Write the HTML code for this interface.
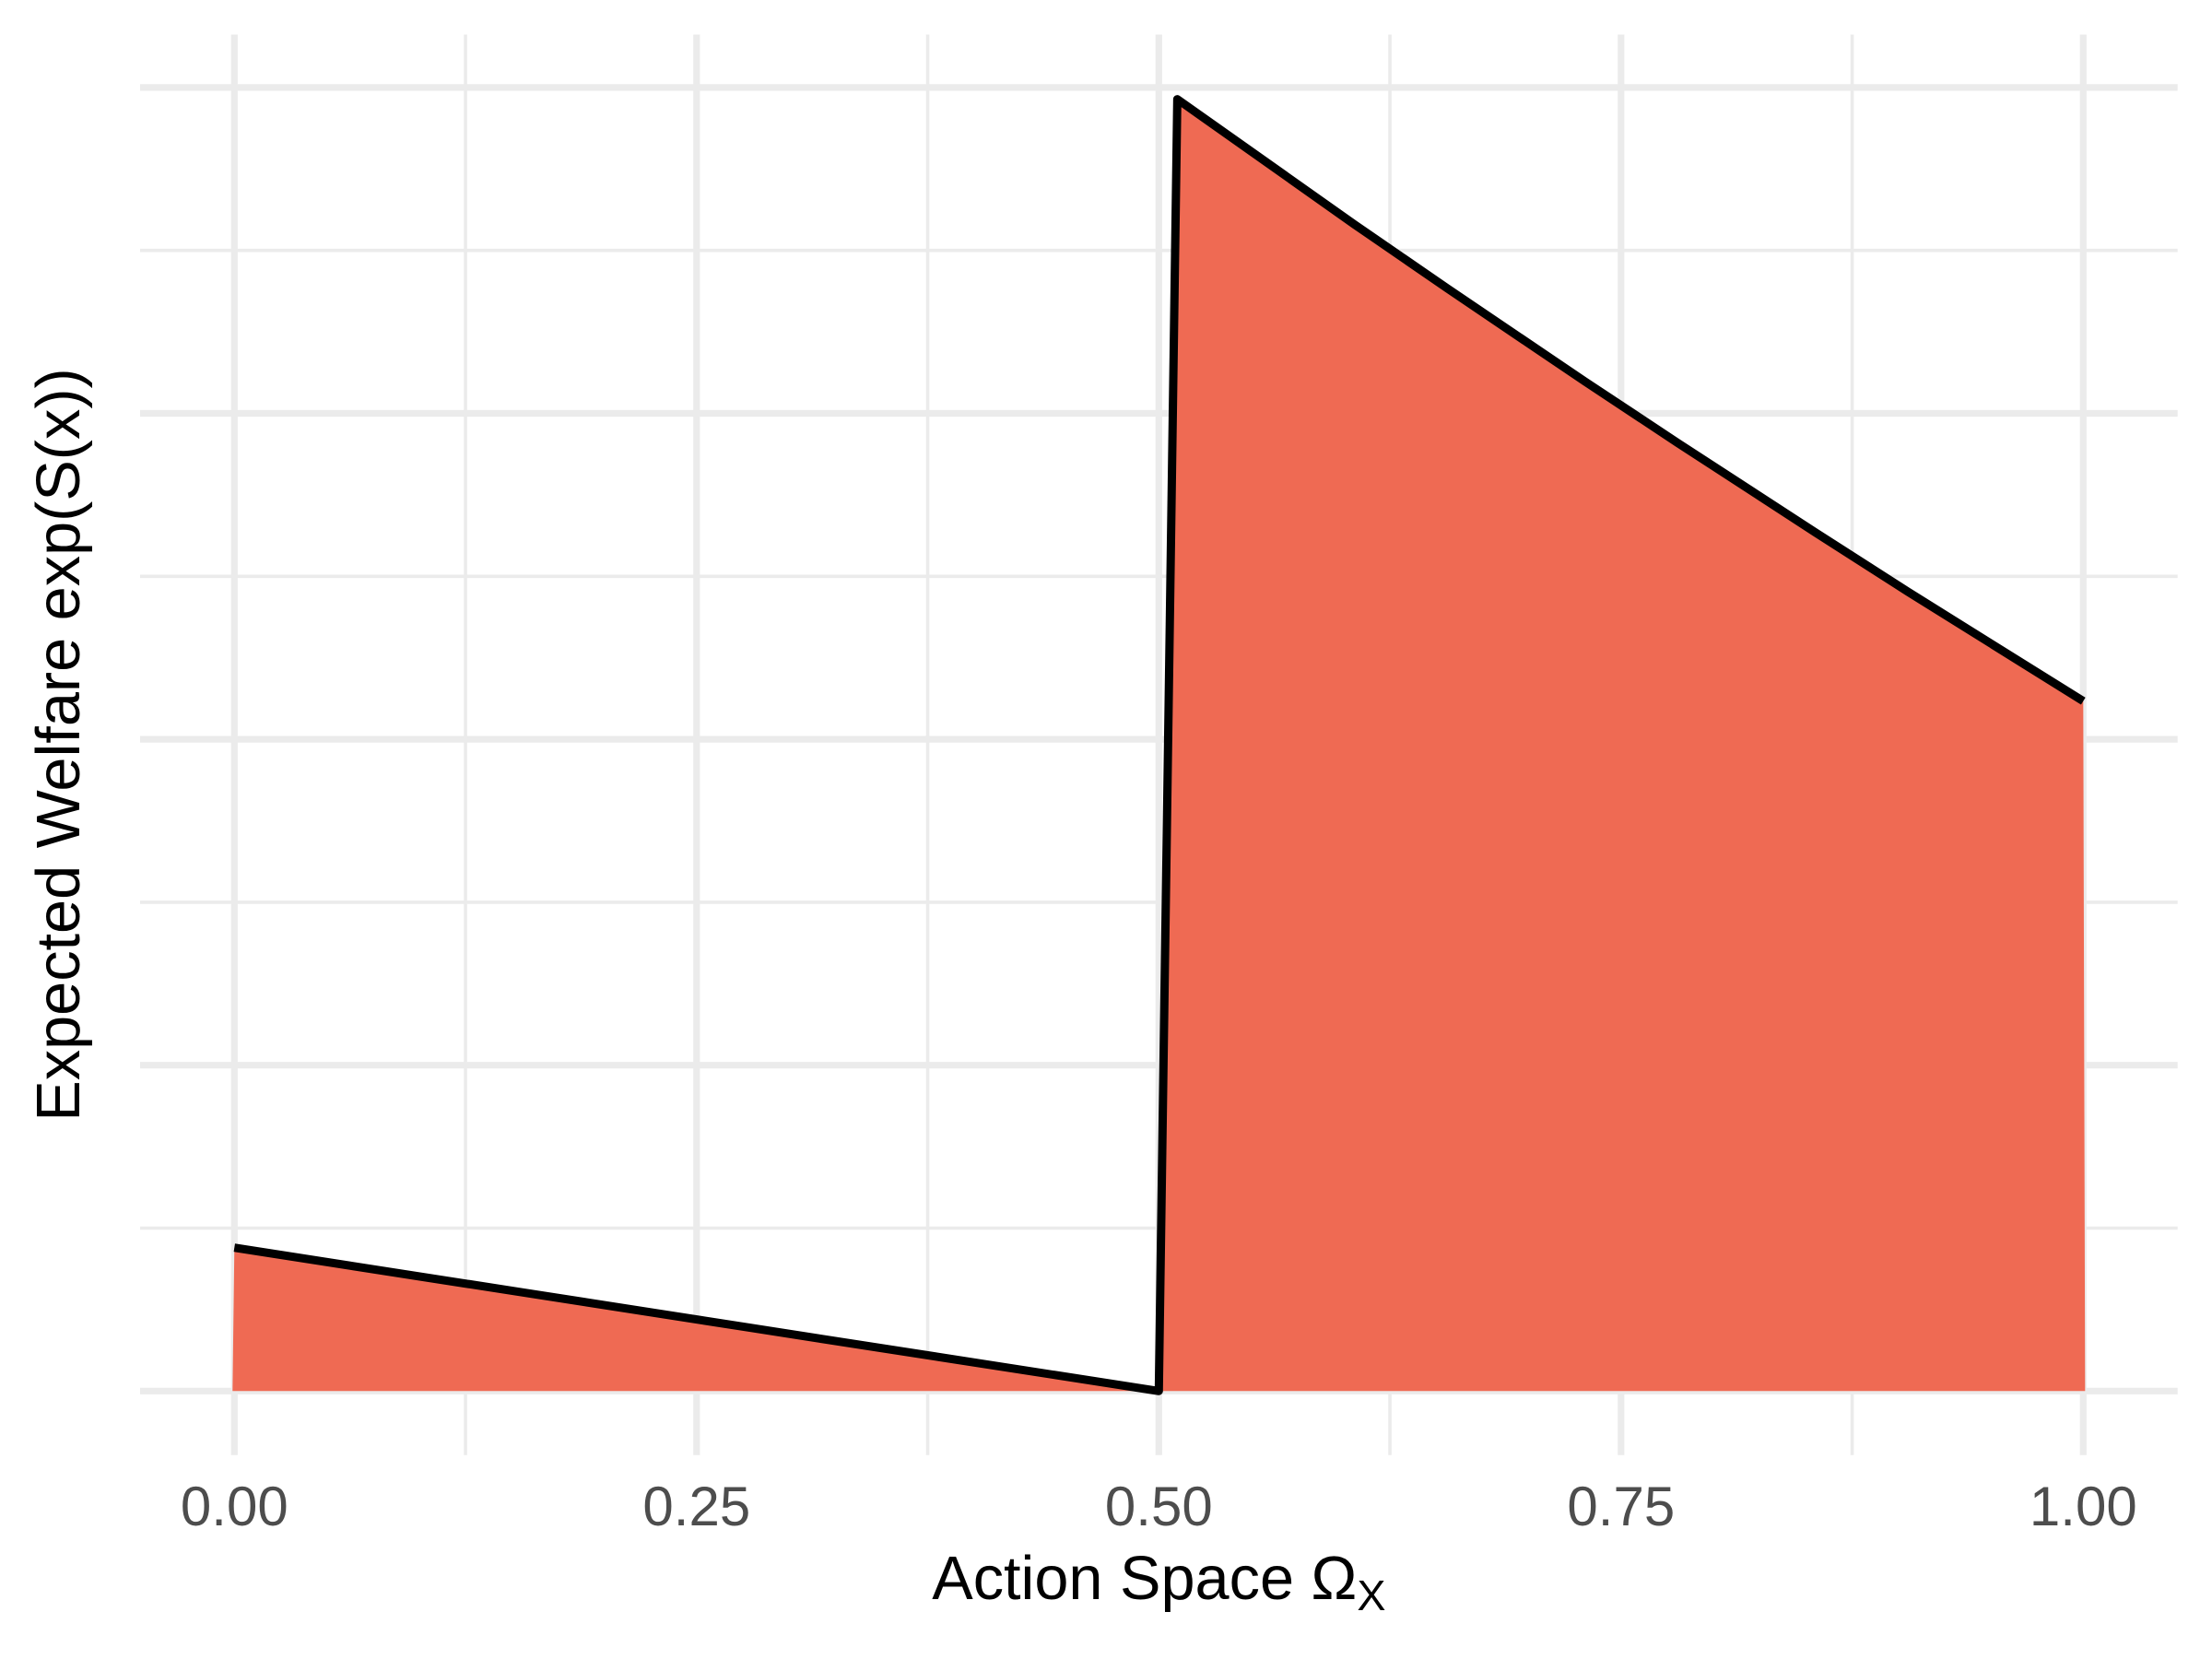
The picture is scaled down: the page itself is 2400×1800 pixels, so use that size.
<!DOCTYPE html>
<html lang="en">
<head>
<meta charset="utf-8">
<title>Expected Welfare over Action Space</title>
<style>
html,body{margin:0;padding:0;background:#fff;width:2400px;height:1800px;overflow:hidden}
svg{display:block}
text{font-family:"Liberation Sans",Arial,sans-serif}
</style>
</head>
<body>
<svg id="chart" xmlns="http://www.w3.org/2000/svg" width="2400" height="1800" viewBox="0 0 2400 1800">
  <rect x="0" y="0" width="2400" height="1800" fill="#ffffff"/>
  <g id="grid"></g>
  <path id="area" fill="#EF6A53" stroke="none"/>
  <path id="line" fill="none" stroke="#000000" stroke-width="9" stroke-linejoin="round" stroke-linecap="butt"/>
  <g id="xticks"></g>
  <text x="1257.4" y="1735" font-size="66.67" fill="#000000" text-anchor="middle">Action Space Ω<tspan font-size="46.7" dy="12">X</tspan></text>
  <text transform="translate(86 808) rotate(-90)" font-size="66.67" fill="#000000" text-anchor="middle">Expected Welfare exp(S(x))</text>
</svg>
<script>
const xMajorTicks = [0, 0.25, 0.5, 0.75, 1];
const xMinorTicks = [0.125, 0.375, 0.625, 0.875];
const xTickLabels = ["0.00", "0.25", "0.50", "0.75", "1.00"];
const yMajorTicks = [0, 1, 2, 3, 4];
const yMinorTicks = [0.5, 1.5, 2.5, 3.5];
const seriesX = [0, 0.2271, 0.2769, 0.5, 0.51, 0.606, 0.6559, 0.7307, 0.7805, 0.8553, 0.9051, 1];
const seriesY = [0.44, 0.24, 0.196, 0, 3.964, 3.579, 3.384, 3.097, 2.91, 2.634, 2.453, 2.117];
const areaBaseX = [-0.001, 1.001];

const plotLeft = 152;
const plotRight = 2362.7;
const plotTop = 37.5;
const plotBottom = 1578.7;
const svgNS = "http://www.w3.org/2000/svg";

function xScale(v) { return 254.3 + v * 2006; }
function yScale(v) { return 1509.3 - v * 353.6; }

const grid = document.getElementById("grid");

function addLine(x1, y1, x2, y2, width) {
  const el = document.createElementNS(svgNS, "line");
  el.setAttribute("x1", x1);
  el.setAttribute("y1", y1);
  el.setAttribute("x2", x2);
  el.setAttribute("y2", y2);
  el.setAttribute("stroke", "#EBEBEB");
  el.setAttribute("stroke-width", width);
  grid.appendChild(el);
  return el;
}

yMinorTicks.forEach(function (v) {
  const el = addLine(plotLeft, yScale(v), plotRight, yScale(v), 3.6);
  
  
});
xMinorTicks.forEach(function (v) {
  const el = addLine(xScale(v), plotTop, xScale(v), plotBottom, 3.6);
  
  
});
yMajorTicks.forEach(function (v) {
  const el = addLine(plotLeft, yScale(v), plotRight, yScale(v), 7.2);
  
  
});
xMajorTicks.forEach(function (v) {
  const el = addLine(xScale(v), plotTop, xScale(v), plotBottom, 7.2);
  
  
});

const linePts = seriesX.map(function (x, i) {
  return xScale(x).toFixed(2) + " " + yScale(seriesY[i]).toFixed(2);
});
document.getElementById("line").setAttribute("d", "M" + linePts.join(" L"));
document.getElementById("area").setAttribute(
  "d",
  "M" + xScale(areaBaseX[0]).toFixed(2) + " " + yScale(0).toFixed(2) +
  " L" + linePts.join(" L") +
  " L" + xScale(areaBaseX[1]).toFixed(2) + " " + yScale(0).toFixed(2) + " Z"
);

const xticks = document.getElementById("xticks");
xMajorTicks.forEach(function (v, i) {
  const t = document.createElementNS(svgNS, "text");
  
  
  t.setAttribute("x", xScale(v));
  t.setAttribute("y", 1655);
  t.setAttribute("font-size", "60");
  t.setAttribute("fill", "#4D4D4D");
  t.setAttribute("text-anchor", "middle");
  t.textContent = xTickLabels[i];
  xticks.appendChild(t);
});
</script>
</body>
</html>
